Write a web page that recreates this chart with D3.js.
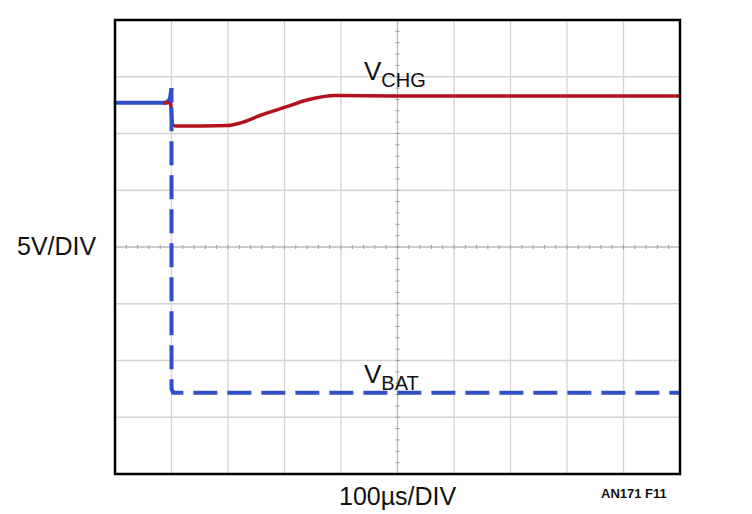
<!DOCTYPE html>
<html><head><meta charset="utf-8">
<script src="https://cdn.jsdelivr.net/npm/d3@7"></script>
<style>body{margin:0;background:#fff;font-family:Arial,"Liberation Sans",sans-serif}</style>
</head><body><div id="chart"></div>
<script>
// values in divisions (x: 0-10, y: 0-8 from bottom)
const vchgX = [0.85, 0.98, 1.02, 1.1, 2.0, 2.2, 2.6, 3.0, 3.4, 3.9, 5, 7, 10];
const vchgY = [6.54, 6.54, 6.15, 6.13, 6.14, 6.18, 6.33, 6.46, 6.59, 6.67, 6.66, 6.66, 6.66];
const vbatX = [0, 0.9, 0.97, 1.0, 1.0, 1.03, 10];
const vbatY = [6.54, 6.54, 6.6, 6.8, 1.5, 1.43, 1.43];

const width = 752, height = 514;
const svg = d3.select("#chart").append("svg").attr("width", width).attr("height", height);
const x = d3.scaleLinear().domain([0, 10]).range([115, 680]);
const y = d3.scaleLinear().domain([0, 8]).range([474, 20]);

// grid
svg.append("g").selectAll("line").data(d3.range(1, 10)).enter().append("line")
  .attr("x1", d => x(d)).attr("x2", d => x(d)).attr("y1", y(0)).attr("y2", y(8))
  .attr("stroke", d => d === 5 ? "#bbb" : "#d4d4d4").attr("stroke-width", 1.3);
svg.append("g").selectAll("line").data(d3.range(1, 8)).enter().append("line")
  .attr("y1", d => y(d)).attr("y2", d => y(d)).attr("x1", x(0)).attr("x2", x(10))
  .attr("stroke", d => d === 4 ? "#bbb" : "#d4d4d4").attr("stroke-width", 1.3);
// minor ticks on centre axes
svg.append("g").selectAll("line").data(d3.range(0, 10.01, 0.2)).enter().append("line")
  .attr("x1", d => x(d)).attr("x2", d => x(d)).attr("y1", y(4) - 2).attr("y2", y(4) + 2)
  .attr("stroke", "#999");
svg.append("g").selectAll("line").data(d3.range(0, 8.01, 0.2)).enter().append("line")
  .attr("y1", d => y(d)).attr("y2", d => y(d)).attr("x1", x(5) - 2).attr("x2", x(5) + 2)
  .attr("stroke", "#999");

const line = d3.line().x(d => x(d[0])).y(d => y(d[1])).curve(d3.curveMonotoneX);
const lineL = d3.line().x(d => x(d[0])).y(d => y(d[1]));

// VBAT solid part before step
svg.append("path").attr("d", lineL(d3.zip(vbatX.slice(0, 4), vbatY.slice(0, 4))))
  .attr("fill", "none").attr("stroke", "#2f4fc9").attr("stroke-width", 4);
// VCHG
svg.append("path").attr("d", line(d3.zip(vchgX, vchgY)))
  .attr("fill", "none").attr("stroke", "#b3121c").attr("stroke-width", 3.5);
// VBAT dashed
svg.append("path").attr("d", lineL(d3.zip(vbatX.slice(2), vbatY.slice(2)).map((d, i) => i < 2 ? [1.0, i === 0 ? 6.54 : d[1]] : d)))
  .attr("fill", "none").attr("stroke", "#2f4fc9").attr("stroke-width", 4)
  .attr("stroke-dasharray", "24,10");

// frame
svg.append("rect").attr("x", x(0)).attr("y", y(8)).attr("width", x(10) - x(0)).attr("height", y(0) - y(8))
  .attr("fill", "none").attr("stroke", "#000").attr("stroke-width", 2.5);

function sub(tx, ty, main, s) {
  const t = svg.append("text").attr("x", tx).attr("y", ty).attr("font-size", 26).attr("fill", "#111");
  t.append("tspan").text(main);
  t.append("tspan").text(s).attr("font-size", 20).attr("dy", 7);
}
sub(364, 80, "V", "CHG");
sub(364, 383, "V", "BAT");
svg.append("text").attr("x", 17).attr("y", 255).attr("font-size", 25).attr("fill", "#111").text("5V/DIV");
svg.append("text").attr("x", 339).attr("y", 505).attr("font-size", 25).attr("fill", "#111").text("100µs/DIV");
svg.append("text").attr("x", 601).attr("y", 498).attr("font-size", 13).attr("font-weight", "bold").attr("fill", "#111").text("AN171 F11");
</script></body></html>
